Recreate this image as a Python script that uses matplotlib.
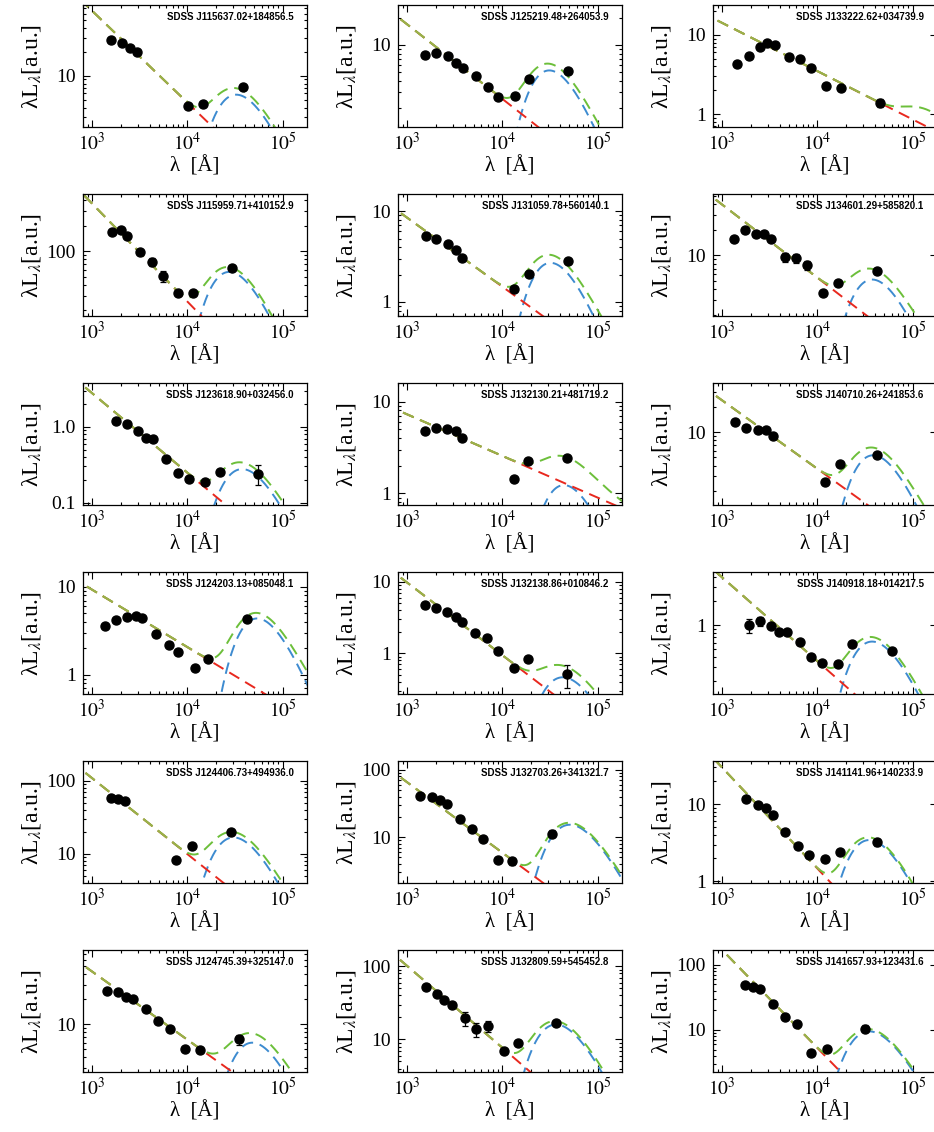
import matplotlib
matplotlib.use('Agg')
import matplotlib.pyplot as plt
import numpy as np
from matplotlib.ticker import FixedLocator, FixedFormatter, LogLocator, NullFormatter

plt.rcParams['font.family'] = ['Liberation Serif', 'DejaVu Serif']
plt.rcParams['mathtext.fontset'] = 'stix'

# panels in row order, 3 per row
names = ['SDSS J115637.02+184856.5', 'SDSS J125219.48+264053.9', 'SDSS J133222.62+034739.9',
         'SDSS J115959.71+410152.9', 'SDSS J131059.78+560140.1', 'SDSS J134601.29+585820.1',
         'SDSS J123618.90+032456.0', 'SDSS J132130.21+481719.2', 'SDSS J140710.26+241853.6',
         'SDSS J124203.13+085048.1', 'SDSS J132138.86+010846.2', 'SDSS J140918.18+014217.5',
         'SDSS J124406.73+494936.0', 'SDSS J132703.26+341321.7', 'SDSS J141141.96+140233.9',
         'SDSS J124745.39+325147.0', 'SDSS J132809.59+545452.8', 'SDSS J141657.93+123431.6']

# rest-frame wavelength [A] of the photometric points
lams = [
    [1590, 2055, 2512, 2951, 10240, 14690, 37900],
    [1535, 2000, 2654, 3222, 3818, 5234, 7058, 9065, 13460, 19050, 48600],
    [1446, 1900, 2500, 2986, 3592, 5000, 6577, 8510, 12420, 17700, 45800],
    [1619, 1981, 2328, 3162, 4290, 5546, 7962, 11450, 29400],
    [1556, 2028, 2649, 3237, 3805, 13240, 18880, 48800],
    [1324, 1755, 2289, 2754, 3291, 4540, 6018, 7782, 11450, 16450, 42200],
    [1778, 2303, 3027, 3654, 4345, 5970, 7962, 10490, 15240, 22200, 55100],
    [1531, 2008, 2636, 3222, 3770, 13090, 18740, 47500],
    [1371, 1778, 2371, 2864, 3451, 12100, 17100, 42500],
    [1352, 1778, 2303, 2864, 3304, 4670, 6324, 7962, 11940, 16630, 42500],
    [1531, 2008, 2636, 3222, 3770, 5164, 6887, 8896, 13090, 18740, 47500],
    [1910, 2477, 3258, 3927, 4742, 6516, 8453, 11270, 16630, 23170, 60900],
    [1560, 1855, 2208, 7638, 11100, 28770],
    [1365, 1815, 2188, 2636, 3565, 4808, 6223, 8896, 12730, 33200],
    [1778, 2371, 2864, 3451, 4603, 6237, 8091, 12100, 17380, 42500],
    [1432, 1855, 2240, 2700, 3654, 4877, 6516, 9484, 13400, 34800],
    [1574, 2037, 2455, 2958, 4055, 5321, 7080, 10280, 14690, 36700],
    [1726, 2113, 2477, 3451, 4603, 6053, 8453, 12470, 31840],
]

fluxes = [
    [28.2, 25.6, 22.6, 20.1, 4.22, 4.43, 7.14],
    [7.74, 8.22, 7.61, 6.26, 5.50, 4.45, 3.44, 2.60, 2.67, 4.16, 5.06],
    [4.31, 5.44, 7.13, 7.85, 7.41, 5.23, 4.94, 3.87, 2.23, 2.15, 1.38],
    [167, 177, 153, 98.2, 74.9, 50.8, 32.4, 31.8, 63.7],
    [5.31, 4.97, 4.41, 3.73, 3.07, 1.40, 2.01, 2.82],
    [15.7, 19.7, 18.15, 18.15, 15.7, 9.47, 9.30, 7.63, 3.64, 4.72, 6.54],
    [1.19, 1.105, 0.887, 0.719, 0.684, 0.375, 0.246, 0.207, 0.188, 0.254, 0.241],
    [4.77, 5.14, 5.06, 4.73, 4.01, 1.45, 2.26, 2.45],
    [13.1, 11.2, 10.7, 10.5, 8.9, 2.58, 4.13, 5.41],
    [3.59, 4.20, 4.57, 4.69, 4.46, 2.91, 2.19, 1.84, 1.21, 1.50, 4.27],
    [4.73, 4.25, 3.73, 3.25, 2.71, 1.90, 1.65, 1.08, 0.617, 0.825, 0.509],
    [1.0, 1.12, 0.98, 0.826, 0.81, 0.607, 0.402, 0.338, 0.323, 0.579, 0.478],
    [58.3, 56.5, 53.7, 8.38, 12.7, 20.0],
    [40.5, 39.5, 36.1, 31.6, 18.7, 13.2, 9.25, 4.62, 4.38, 11.3],
    [11.6, 9.8, 8.9, 7.33, 4.42, 2.91, 2.18, 1.97, 2.40, 3.21],
    [25.4, 24.6, 21.1, 20.2, 15.1, 10.9, 8.73, 4.99, 4.9, 6.55],
    [51.4, 41.9, 34.1, 29.9, 19.4, 13.9, 15.1, 6.99, 9.0, 16.7],
    [49.3, 45.0, 42.5, 24.9, 15.8, 12.4, 4.5, 5.16, 10.5],
]

errs = [
    [2.0, 0, 0, 0, 0, 0, 0.5],
    [0] * 11,
    [0] * 10 + [0.15],
    [0, 0, 0, 0, 8, 7, 0, 0, 0],
    [0] * 8,
    [0, 0, 0, 0, 0, 1.2, 1.2, 0.9, 0, 0, 0],
    [0] * 10 + [0.07],
    [0] * 8,
    [0] * 8,
    [0] * 11,
    [0] * 10 + [0.18],
    [0.2, 0.15] + [0] * 9,
    [0, 0, 0, 0, 0, 2.0],
    [0] * 8 + [0.5, 1.3],
    [0] * 9 + [0.3],
    [0] * 9 + [0.9],
    [0, 0, 0, 0, 4, 3, 2.5, 0, 0, 0],
    [0] * 8 + [1.3],
]

ylims = [(2.28, 77.2), (1.22, 27.8), (0.686, 23.9),
         (17.2, 473), (0.70, 15.5), (1.93, 53.1),
         (0.093, 3.79), (0.747, 15.9), (1.37, 38.0),
         (0.604, 14.8), (0.268, 13.8), (0.136, 4.64),
         (4.01, 186), (2.09, 135), (0.95, 36.4),
         (2.65, 78.3), (3.59, 167), (2.27, 167)]

yticks = [[10], [10], [1, 10],
          [100], [1, 10], [10],
          [0.1, 1.0], [1, 10], [10],
          [1, 10], [1, 10], [1],
          [10, 100], [10, 100], [1, 10],
          [10], [10, 100], [10, 100]]
yticklabels = [['10'], ['10'], ['1', '10'],
               ['100'], ['1', '10'], ['10'],
               ['0.1', '1.0'], ['1', '10'], ['10'],
               ['1', '10'], ['1', '10'], ['1'],
               ['10', '100'], ['10', '100'], ['1', '10'],
               ['10'], ['10', '100'], ['10', '100']]

# fit components: power law (value at 1e4 A, slope) and hot-dust blackbody (peak lam, peak value)
pl_amp = [4.6, 2.5, 3.48, 25.4, 1.47, 5.45, 0.247, 2.55, 3.66,
          2.06, 0.934, 0.35, 9.92, 5.86, 1.46, 6.47, 7.65, 5.27]
pl_slope = [-1.15, -0.83, -0.61, -1.155, -0.761, -0.863, -1.05, -0.453, -0.81,
            -0.654, -1.02, -1.054, -1.037, -1.046, -1.31, -0.822, -1.12, -1.50]
bb_lam = [32500, 31000, 130000, 27500, 32000, 37500, 37500, 44200, 38500,
          54000, 43000, 37500, 30500, 51000, 35000, 48000, 36500, 35000]
bb_peak = [5.8, 5.2, 0.45, 57, 2.7, 5.2, 0.277, 1.23, 5.31,
           4.38, 0.46, 0.62, 16.8, 15.3, 3.43, 5.98, 16.0, 9.5]

RED = '#e8281e'
BLUE = '#3d8bd0'
GREEN = '#6cbf3a'
OLIVE = '#9cb04a'


def bb_shape(lam, lam_p):
    xp = 3.9207
    x = xp * lam_p / lam
    with np.errstate(over='ignore'):
        f = x ** 4 / np.expm1(x)
    return f / (xp ** 4 / np.expm1(xp))


fig = plt.figure(figsize=(9.34, 11.32), dpi=100)
grid = np.logspace(np.log10(600), np.log10(3e5), 800)
dash = (6, 3.5)

for i in range(18):
    row, col = divmod(i, 3)
    left = (83 + 315 * col) / 934
    bottom = 1 - (5 + 189 * row + 122) / 1132
    ax = fig.add_axes([left, bottom, 224 / 934, 122 / 1132])

    pl = pl_amp[i] * (grid / 1e4) ** pl_slope[i]
    bb = bb_peak[i] * bb_shape(grid, bb_lam[i])
    tot = pl + bb
    same = np.where(bb < 0.04 * pl, tot, np.nan)

    ax.plot(grid, bb, color=BLUE, lw=1.4, dashes=dash)
    ax.plot(grid, pl, color=RED, lw=1.4, dashes=dash)
    ax.plot(grid, tot, color=GREEN, lw=1.4, dashes=dash)
    ax.plot(grid, same, color=OLIVE, lw=1.4, dashes=dash)

    lam = np.array(lams[i], dtype=float)
    flx = np.array(fluxes[i], dtype=float)
    err = np.array(errs[i], dtype=float)
    m = err > 0
    if m.any():
        ax.errorbar(lam[m], flx[m], yerr=err[m], fmt='none', ecolor='k',
                    elinewidth=0.9, capsize=2.2, capthick=0.9, zorder=4)
    ax.plot(lam, flx, 'o', color='k', ms=6.5, zorder=5)

    ax.set_xscale('log')
    ax.set_yscale('log')
    ax.set_xlim(800, 1.8e5)
    ax.set_ylim(*ylims[i])

    ax.xaxis.set_major_locator(FixedLocator([1e3, 1e4, 1e5]))
    ax.xaxis.set_major_formatter(FixedFormatter([r'$10^3$', r'$10^4$', r'$10^5$']))
    ax.xaxis.set_minor_locator(LogLocator(subs=np.arange(2, 10)))
    ax.xaxis.set_minor_formatter(NullFormatter())
    ax.yaxis.set_major_locator(FixedLocator(yticks[i]))
    ax.yaxis.set_major_formatter(FixedFormatter(yticklabels[i]))
    ax.yaxis.set_minor_locator(LogLocator(subs=np.arange(2, 10)))
    ax.yaxis.set_minor_formatter(NullFormatter())

    ax.tick_params(which='both', direction='in', top=True, right=True, labelsize=14, width=0.8)
    ax.tick_params(which='major', length=5)
    ax.tick_params(which='minor', length=2.5)
    ax.tick_params(axis='y', pad=5)
    for s in ax.spines.values():
        s.set_linewidth(0.9)

    ax.text(0.94, 0.905, names[i], transform=ax.transAxes, ha='right', va='center',
            fontsize=7, fontweight='bold', family=['Liberation Sans', 'DejaVu Sans'])

    ax.set_xlabel('λ  [Å]', fontsize=15)
    ax.xaxis.set_label_coords(0.5, -0.24)
    ax.set_ylabel(r'λL$_{\lambda}$[a.u.]', fontsize=17)
    ax.yaxis.set_label_coords(-0.18, 0.5)

fig.savefig('out.png', dpi=100)
